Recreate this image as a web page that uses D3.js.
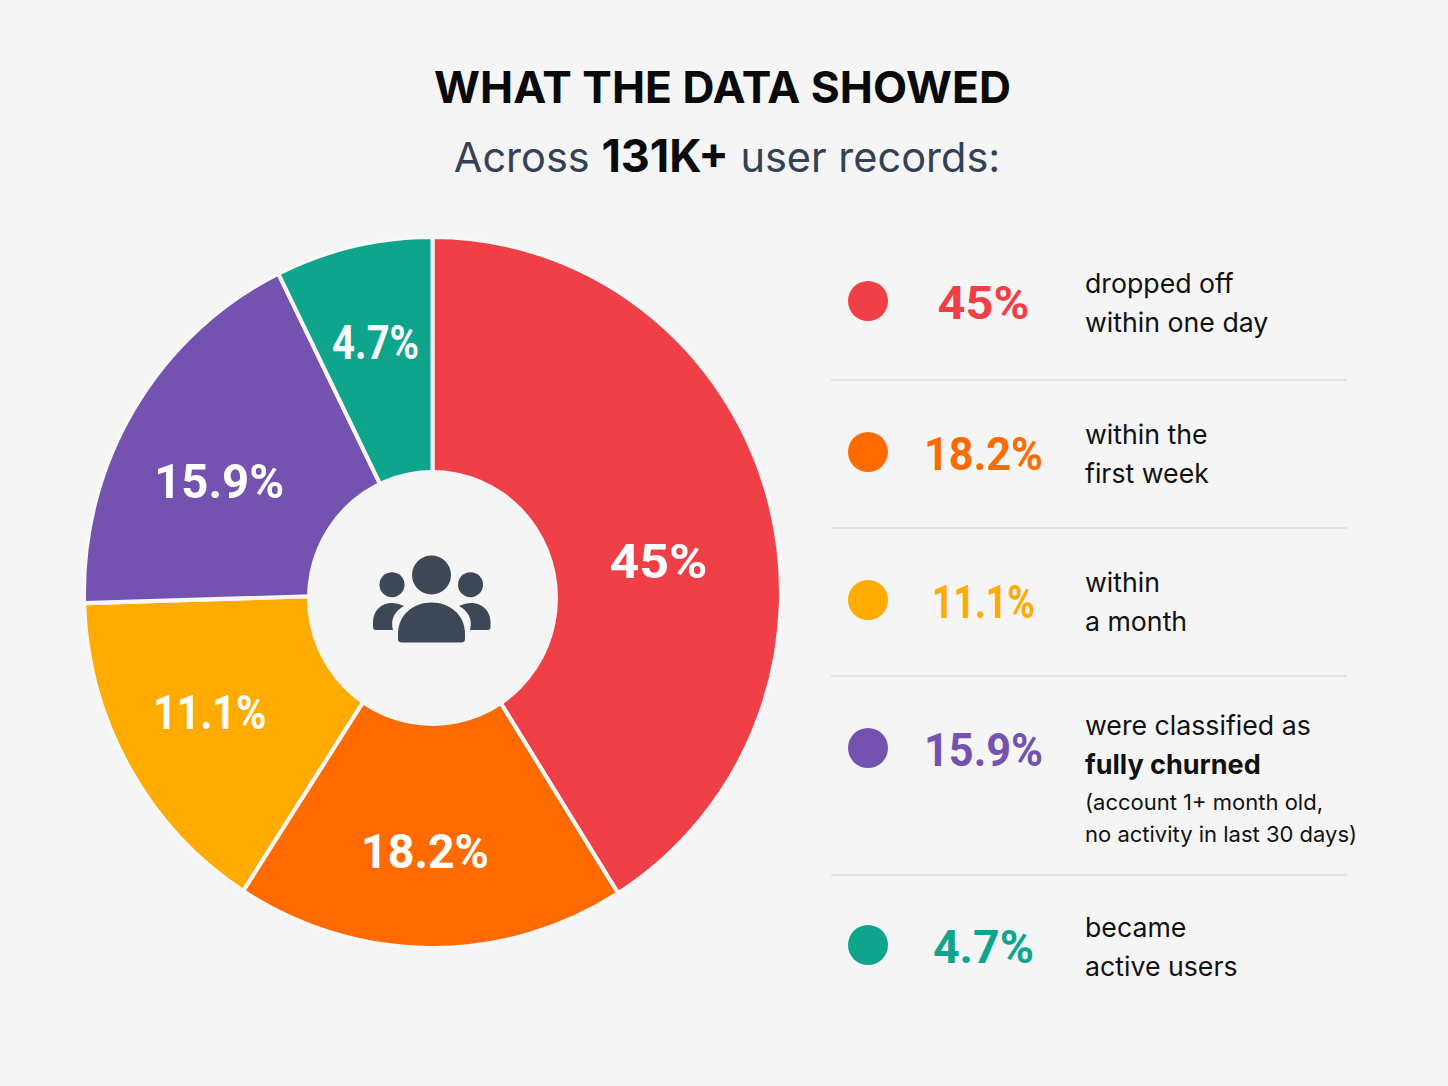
<!DOCTYPE html>
<html>
<head>
<meta charset="utf-8">
<script src="https://cdn.jsdelivr.net/npm/d3@7"></script>
<style>
  html, body { margin: 0; padding: 0; background: #f5f5f5; }
  svg { display: block; font-family: Inter, sans-serif; }
</style>
</head>
<body>
<div id="chart"></div>
<script>
// data
const labels = ['45%', '18.2%', '11.1%', '15.9%', '4.7%']
// the drawn slices do not follow the printed labels, so these are the measured shares
const sliceShares = [41.1, 18.1, 15.4, 18.2, 7.3]
const colors = ['#f13f47', '#ff6b00', '#ffab00', '#7352b0', '#0ea58c']
const descriptions = [
  [{ t: 'dropped off' }, { t: 'within one day' }],
  [{ t: 'within the' }, { t: 'first week' }],
  [{ t: 'within' }, { t: 'a month' }],
  [
    { t: 'were classified as' },
    { t: 'fully churned', bold: true },
    { t: '(account 1+ month old,', small: true },
    { t: 'no activity in last 30 days)', small: true },
  ],
  [{ t: 'became' }, { t: 'active users' }],
]

const width = 1448
const height = 1086
const cx = 432.5
const cy = 592.5
const outerR = 348.5
const ySquash = 1.02
const innerR = 126

// nudges from the arc centroid for the slice labels
const labelNudge = [
  [-2, 35],
  [-6, 16],
  [-16, 0],
  [-10, 13],
  [-3, -15],
]
// measured text widths, the installed fonts run a bit different
const sliceLabelW = [98, 128, 113, 130, 87]
const rowLabelW = [92, 119, 103, 119, 101]
// legend layout
const rowY = [301, 452, 600, 748, 945]
const lineY = [
  [293, 332],
  [444, 483],
  [592, 631],
  [735, 774, 810, 842],
  [937, 976],
]
const dividerY = [380, 528, 676, 875]

const svg = d3
  .select('#chart')
  .append('svg')
  .attr('width', width)
  .attr('height', height)
  .attr('viewBox', [0, 0, width, height])

svg.append('rect').attr('width', width).attr('height', height).attr('fill', '#f5f5f5')

// title
svg
  .append('text')
  .attr('x', 722.5)
  .attr('y', 103)
  .attr('text-anchor', 'middle')
  .attr('font-size', 44.3)
  .attr('font-weight', 700)
  .attr('fill', '#0a0a0a')
  .text('WHAT THE DATA SHOWED')

const sub = svg
  .append('text')
  .attr('x', 727)
  .attr('y', 172)
  .attr('text-anchor', 'middle')
  .attr('font-size', 41.5)
  .attr('fill', '#334155')
sub.append('tspan').text('Across ')
sub.append('tspan').attr('font-size', 45).attr('font-weight', 700).attr('fill', '#0a0a0a').text('131K+')
sub.append('tspan').text(' user records:')

// pie
const pie = d3.pie().sort(null)
const arcs = pie(sliceShares)
const arc = d3.arc().innerRadius(0).outerRadius(outerR)
const labelArc = d3.arc().innerRadius(innerR).outerRadius(outerR)

const g = svg.append('g').attr('transform', `translate(${cx} ${cy}) scale(1 ${ySquash})`)

g.selectAll('path')
  .data(arcs)
  .enter()
  .append('path')
  .attr('d', arc)
  .attr('fill', (d, i) => colors[i])
  .attr('stroke', '#f7f7f7')
  .attr('stroke-width', 4)
  .attr('stroke-linejoin', 'round')

// hole in the middle
svg
  .append('ellipse')
  .attr('cx', cx)
  .attr('cy', 598)
  .attr('rx', 125.5)
  .attr('ry', 128)
  .attr('fill', '#f5f5f5')

svg
  .selectAll('.slice-label')
  .data(arcs)
  .enter()
  .append('text')
  .attr('class', 'slice-label')
  .attr('x', (d, i) => cx + labelArc.centroid(d)[0] + labelNudge[i][0])
  .attr('y', (d, i) => cy + labelArc.centroid(d)[1] * ySquash + labelNudge[i][1])
  .attr('dy', '0.36em')
  .attr('text-anchor', 'middle')
  .attr('font-family', 'Roboto, sans-serif')
  .attr('font-size', 49)
  .attr('font-weight', 700)
  .attr('fill', '#fff')
  .attr('textLength', (d, i) => sliceLabelW[i])
  .attr('lengthAdjust', 'spacingAndGlyphs')
  .text((d, i) => labels[i])

// people icon
const icon = svg.append('g').attr('fill', '#3d4856')
icon.append('circle').attr('cx', 431.5).attr('cy', 575).attr('r', 19.5)
icon.append('circle').attr('cx', 392).attr('cy', 584.7).attr('r', 12.5)
icon.append('circle').attr('cx', 470.5).attr('cy', 584.7).attr('r', 12.5)
icon
  .append('path')
  .attr('d', 'M398 639V634C398 615 413 602.5 431.5 602.5C450 602.5 465 615 465 634V639Q465 642.5 461 642.5H402Q398 642.5 398 639Z')
icon
  .append('path')
  .attr('d', 'M373 627V622C373 610 382 603 392 603Q397 603 404 606C395 611 390 619 393 630H376Q373 630 373 627Z')
icon
  .append('path')
  .attr('d', 'M490.5 627V622C490.5 610 481 603 471 603Q466 603 459 606C468 611 473 619 470 630H487.5Q490.5 630 490.5 627Z')

// legend
const rows = svg
  .selectAll('.row')
  .data(labels)
  .enter()
  .append('g')
  .attr('class', 'row')

rows
  .append('circle')
  .attr('cx', 868)
  .attr('cy', (d, i) => rowY[i])
  .attr('r', 20)
  .attr('fill', (d, i) => colors[i])

rows
  .append('text')
  .attr('x', 983.5)
  .attr('y', (d, i) => rowY[i] + 1)
  .attr('dy', '0.36em')
  .attr('text-anchor', 'middle')
  .attr('font-family', 'Roboto, sans-serif')
  .attr('font-size', 46)
  .attr('font-weight', 700)
  .attr('fill', (d, i) => colors[i])
  .attr('textLength', (d, i) => rowLabelW[i])
  .attr('lengthAdjust', 'spacingAndGlyphs')
  .text((d) => d)

rows.each(function (d, i) {
  d3.select(this)
    .selectAll('.desc')
    .data(descriptions[i])
    .enter()
    .append('text')
    .attr('class', 'desc')
    .attr('x', 1085)
    .attr('y', (l, j) => lineY[i][j])
    .attr('font-size', (l) => (l.small ? 22 : l.bold ? 27 : 26.7))
    .attr('font-weight', (l) => (l.bold ? 700 : 400))
    .attr('fill', '#111')
    .text((l) => l.t)
})

svg
  .selectAll('.divider')
  .data(dividerY)
  .enter()
  .append('line')
  .attr('class', 'divider')
  .attr('x1', 831)
  .attr('x2', 1347)
  .attr('y1', (d) => d)
  .attr('y2', (d) => d)
  .attr('stroke', '#e2e2e2')
  .attr('stroke-width', 2)
</script>
</body>
</html>
